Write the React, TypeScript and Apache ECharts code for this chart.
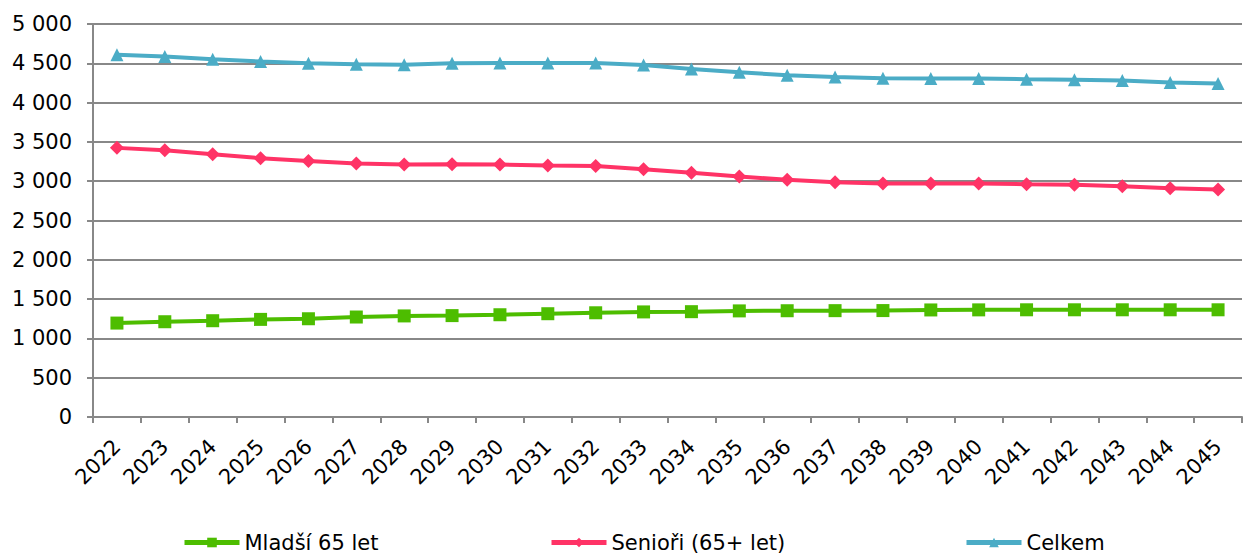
import React, { useEffect, useRef } from "react";
import * as echarts from "echarts";

const years = ["2022","2023","2024","2025","2026","2027","2028","2029","2030","2031","2032","2033","2034","2035","2036","2037","2038","2039","2040","2041","2042","2043","2044","2045"];
const mladsi = [1195,1212,1225,1242,1250,1272,1286,1290,1301,1314,1326,1337,1340,1350,1352,1353,1354,1362,1363,1364,1364,1364,1364,1364];
const seniori = [3424,3394,3343,3292,3258,3225,3212,3216,3212,3199,3192,3152,3106,3059,3017,2987,2970,2970,2970,2962,2956,2936,2911,2894];
const celkem = [4608,4588,4552,4522,4502,4487,4483,4500,4504,4504,4504,4477,4428,4386,4347,4326,4310,4306,4308,4298,4290,4280,4256,4243];
const yTicks = [0, 5000, 500];

const FONT = "DejaVu Sans";
const GREEN = "#4dbd00";
const PINK = "#ff3366";
const BLUE = "#4bacc6";

export default function App() {
  const ref = useRef<HTMLDivElement>(null);
  useEffect(() => {
    const chart = echarts.init(ref.current!, null, { renderer: "svg" });
    const legendText = { fontFamily: FONT, fontSize: 21, color: "#000" };
    const legendBase = { top: 532, itemWidth: 55, itemHeight: 12, itemGap: 5, textStyle: legendText, lineStyle: { width: 5 }, padding: 0 };
    const mk = (name: string, data: number[], color: string, symbol: string, size: number) => ({
      name,
      type: "line",
      data,
      symbol,
      symbolSize: size,
      showSymbol: true,
      lineStyle: { color, width: 4 },
      itemStyle: { color },
    });
    chart.setOption({
      animation: false,
      grid: { left: 93, right: 7, top: 24, bottom: 141 },
      legend: [
        { ...legendBase, data: ["Mladší 65 let"], left: 182 },
        { ...legendBase, data: ["Senioři (65+ let)"], left: 549 },
        { ...legendBase, data: ["Celkem"], left: 964 },
      ],
      xAxis: {
        type: "category",
        data: years,
        boundaryGap: true,
        axisLine: { lineStyle: { color: "#888", width: 2 } },
        axisTick: { show: true, length: 6, lineStyle: { color: "#888", width: 2 } },
        axisLabel: { rotate: 45, fontFamily: FONT, fontSize: 21, color: "#000", margin: 26, interval: 0 },
        splitLine: { show: false },
      },
      yAxis: {
        type: "value",
        min: yTicks[0],
        max: yTicks[1],
        interval: yTicks[2],
        axisLine: { show: true, lineStyle: { color: "#888", width: 2 } },
        axisTick: { show: true, length: 6, lineStyle: { color: "#888", width: 2 } },
        axisLabel: {
          fontFamily: FONT,
          fontSize: 21,
          color: "#000",
          margin: 21,
          formatter: (v: number) => String(v).replace(/\B(?=(\d{3})+(?!\d))/g, " "),
        },
        splitLine: { lineStyle: { color: "#888", width: 2 } },
      },
      series: [
        mk("Mladší 65 let", mladsi, GREEN, "rect", 13),
        mk("Senioři (65+ let)", seniori, PINK, "diamond", 14),
        mk("Celkem", celkem, BLUE, "triangle", 13),
      ],
    });
    return () => chart.dispose();
  }, []);
  return <div ref={ref} style={{ width: 1249, height: 558, position: "absolute", left: 0, top: 0 }} />;
}
